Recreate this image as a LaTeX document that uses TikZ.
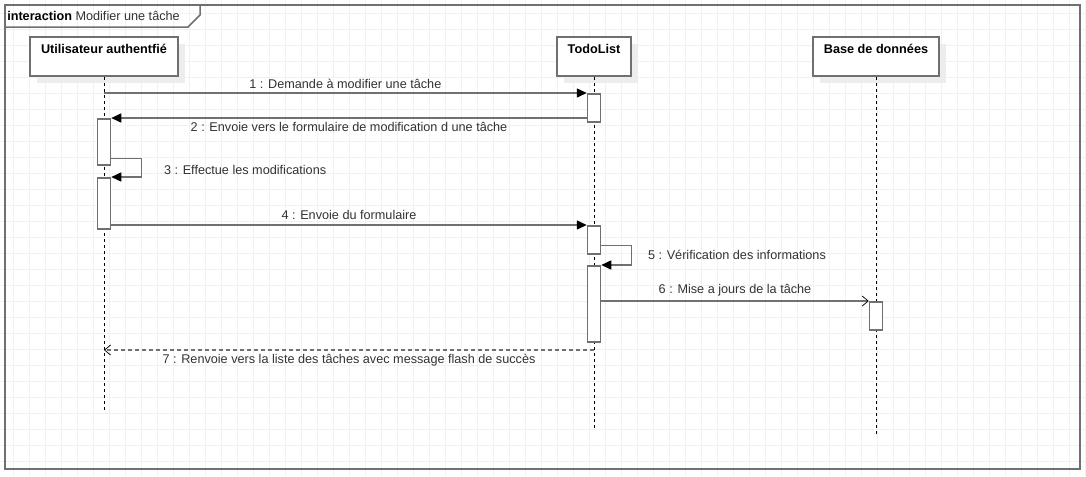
\documentclass[tikz,border=0pt]{standalone}
\usepackage{fontspec}
\setmainfont{Liberation Sans}
\usetikzlibrary{arrows.meta,shadows}

\newlength{\du}
\setlength{\du}{0.75pt}
\definecolor{dialinecolor}{rgb}{0.440000, 0.440000, 0.440000}
\definecolor{gridcolor}{rgb}{0.945000, 0.945000, 0.945000}
\definecolor{shadowcolor}{rgb}{0.930000, 0.930000, 0.930000}
\definecolor{labelcolor}{rgb}{0.200000, 0.200000, 0.200000}

\begin{document}
\begin{tikzpicture}[x=\du,y=-\du,
  font=\fontsize{9.5}{11}\selectfont,
  headbox/.style={draw=dialinecolor, line width=1.5\du, fill=white,
    text height=13\du, text depth=20\du, inner sep=3\du,
    font=\fontsize{9.5}{11}\selectfont\bfseries,
    drop shadow={shadow xshift=7\du, shadow yshift=-7\du, fill=shadowcolor, opacity=1}},
  actbox/.style={draw=dialinecolor, line width=1.5\du, fill=white,
    minimum width=13\du, inner sep=0pt, anchor=north},
  lifeline/.style={draw=black, line width=0.75\du, dash pattern=on 3\du off 3\du},
  msg/.style={draw=dialinecolor, line width=1.5\du,
    -{Triangle[length=7.5pt, width=6.75pt, color=black]}},
  async/.style={draw=dialinecolor, line width=1.5\du,
    -{Straight Barb[length=4.5pt, width=7.5pt, line width=0.55pt, color=black]}},
  reply/.style={draw=dialinecolor, line width=1.2\du, dash pattern=on 4\du off 3\du,
    -{Straight Barb[length=4.5pt, width=7.5pt, line width=0.55pt, color=black]}},
  msglabel/.style={text=labelcolor, inner sep=0.75pt}]
\useasboundingbox (0,0) rectangle (1086,476);
\fill[white] (0,0) rectangle (1086,476);
% grid
\foreach \gx in {13,29,...,1085}
  \draw[gridcolor, line width=0.75\du] (\gx,0) -- (\gx,476);
\foreach \gy in {13,29,...,476}
  \draw[gridcolor, line width=0.75\du] (0,\gy) -- (1086,\gy);
% frame
\draw[dialinecolor, line width=1.5\du] (5,5) rectangle (1080,469);
\draw[dialinecolor, line width=1.5\du] (5,27) -- (188,27) -- (200,15) -- (200,5);
\node[anchor=west, inner sep=0pt, text=labelcolor] (title) at (7,16) {\textbf{\color{black}interaction} Modifier une tâche};
% heads
\node[headbox, minimum width=148\du] (uhead) at (104,56.5) {Utilisateur authentfié};
\node[headbox, minimum width=74\du] (thead) at (594,56.5) {TodoList};
\node[headbox, minimum width=126\du] (dhead) at (876,56.5) {Base de données};
\coordinate (uend) at (104,410);
\coordinate (tend) at (594,428);
\coordinate (dend) at (876,434);
% lifelines
\draw[lifeline] (uhead.south) -- (uend);
\draw[lifeline] (thead.south) -- (tend);
\draw[lifeline] (dhead.south) -- (dend);
% activations
\node[actbox, minimum height=28\du] (t1) at (594,93) {};
\node[actbox, minimum height=46\du] (u1) at (104,118) {};
\node[actbox, minimum height=51\du] (u2) at (104,177) {};
\node[actbox, minimum height=28\du] (t2) at (594,225) {};
\node[actbox, minimum height=76\du] (t3) at (594,265) {};
\node[actbox, minimum height=28\du] (d1) at (876,301) {};
% messages
\draw[msg] (t1.north west -| uhead) -- node[msglabel, above=2.25pt] {1 : Demande à modifier une tâche} (t1.north west);
\draw[msg] (t1.west |- u1.north) -- node[msglabel, below=2.25pt] {2 : Envoie vers le formulaire de modification d une tâche} (u1.north east);
\draw[msg] ([yshift=5.25pt]u1.south east) -- ++(30,0) |- node[msglabel, pos=0.25, right=15.75pt, yshift=-1.5pt] {3 : Effectue les modifications} (u2.north east);
\draw[msg] (u2.east |- t2.north) -- node[msglabel, above=3pt] {4 : Envoie du formulaire} (t2.north west);
\draw[msg] ([yshift=6.75pt]t2.south east) -- ++(30,0) |- node[msglabel, pos=0.25, right=11.25pt] {5 : Vérification des informations} (t3.north east);
\draw[async] (t3.east |- d1.north) -- node[msglabel, above=2.25pt] {6 : Mise a jours de la tâche} (d1.north west);
\coordinate (m7) at (594,350);
\draw[reply] (m7) -- node[msglabel, below=2.25pt] {7 : Renvoie vers la liste des tâches avec message flash de succès} (m7 -| uhead);
\end{tikzpicture}
\end{document}
